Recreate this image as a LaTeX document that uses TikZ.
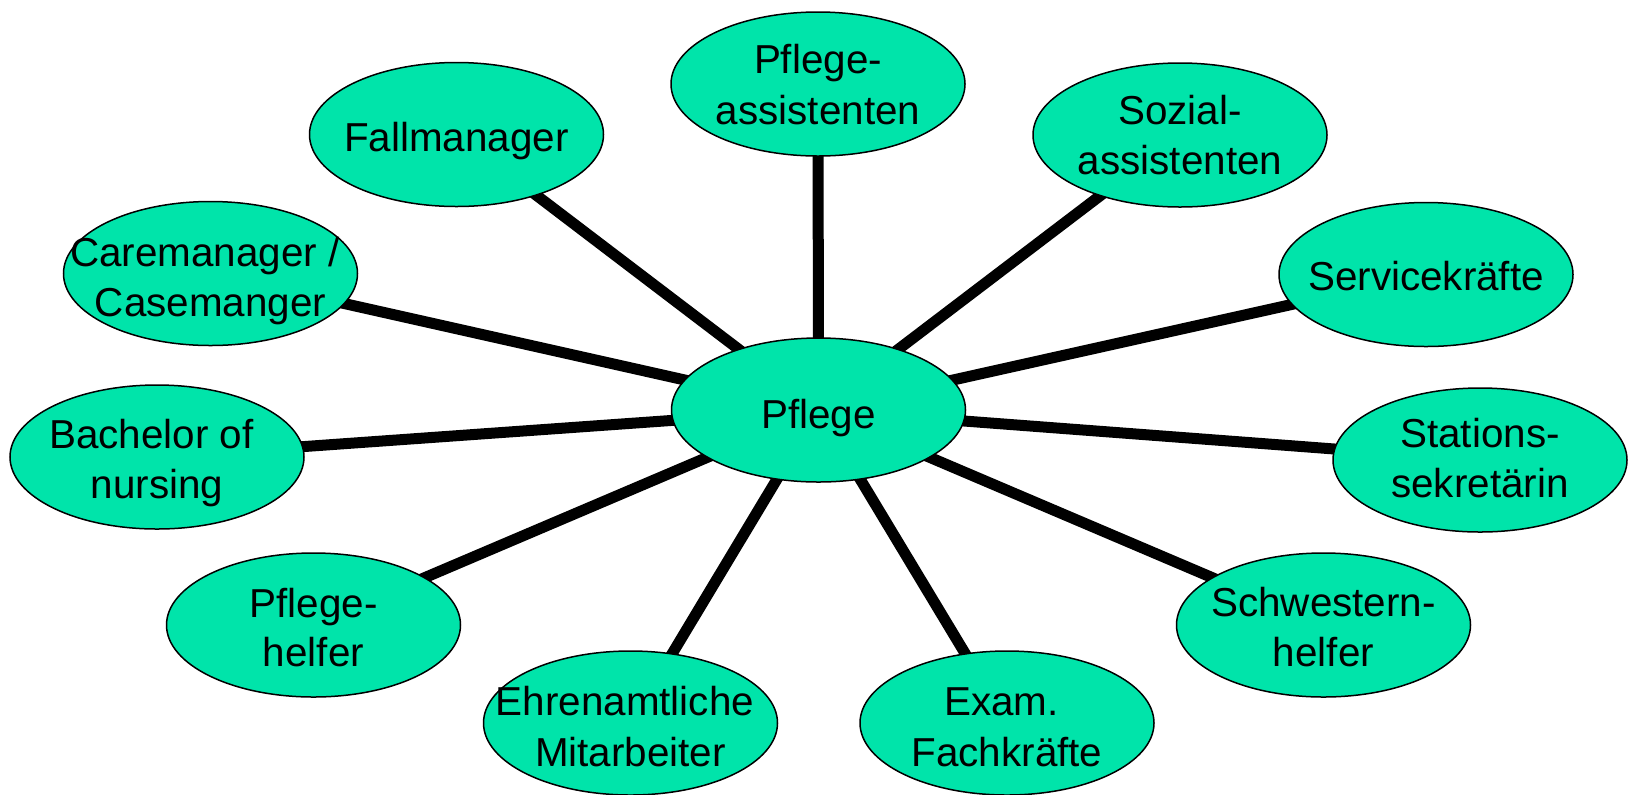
\documentclass[tikz,border=0pt]{standalone}
\usepackage{fontspec}
\setmainfont{Liberation Sans}
\usetikzlibrary{shapes.geometric}
\definecolor{bubble}{HTML}{00E4AA}
\pgfdeclarelayer{bg}
\pgfsetlayers{bg,main}
\begin{document}
\begin{tikzpicture}[x=0.5pt,y=-0.5pt,
  bub/.style={ellipse, draw=black, line width=0.75pt, fill=bubble,
    minimum width=147pt, minimum height=72pt, inner sep=0pt},
  lbl/.style={anchor=base, inner sep=0pt, font=\fontsize{20.2pt}{24pt}\selectfont},
  spoke/.style={line width=5.5pt, black}]
\useasboundingbox (0,0) rectangle (1632,794);
% ellipses
\node[bub] (P)  at (818.5,410) {};
\node[bub] (PA) at (818,84) {};
\node[bub] (FM) at (456.5,134.5) {};
\node[bub] (SA) at (1180,135) {};
\node[bub] (CM) at (210.5,273.5) {};
\node[bub] (SK) at (1426,274.5) {};
\node[bub] (BN) at (157,457) {};
\node[bub] (SS) at (1480,460) {};
\node[bub] (PH) at (313.5,625) {};
\node[bub] (SH) at (1323.5,625) {};
\node[bub] (EM) at (630.5,723) {};
\node[bub] (EX) at (1007,723) {};
% spokes
\begin{pgfonlayer}{bg}
\foreach \n in {PA,FM,SA,CM,SK,BN,SS,PH,SH,EM,EX}
  \draw[spoke] (P.center) -- (\n.center);
\end{pgfonlayer}
% labels
\node[lbl] (tP)   at (818.5,428) {Pflege};
\node[lbl] (tPA1) at (818,73) {Pflege-};
\node[lbl] (tPA2) at (818,124) {assistenten};
\node[lbl] (tFM)  at (456.5,151) {Fallmanager};
\node[lbl] (tSA1) at (1180,124) {Sozial-};
\node[lbl] (tSA2) at (1180,174) {assistenten};
\node[lbl] (tCM1) at (210.5,266) {Caremanager /\kern.278em};
\node[lbl] (tCM2) at (210.5,316) {Casemanger};
\node[lbl] (tSK)  at (1426,290) {Servicekräfte};
\node[lbl] (tBN1) at (157,448) {Bachelor of\kern.278em};
\node[lbl] (tBN2) at (157,498) {nursing};
\node[lbl] (tSS1) at (1480,447) {Stations-};
\node[lbl] (tSS2) at (1480,497) {sekretärin};
\node[lbl] (tPH1) at (313.5,617) {Pflege-};
\node[lbl] (tPH2) at (313.5,666) {helfer};
\node[lbl] (tSH1) at (1323.5,616) {Schwestern-};
\node[lbl] (tSH2) at (1323.5,666) {helfer};
\node[lbl] (tEM1) at (630.5,715) {Ehrenamtliche\kern.278em};
\node[lbl] (tEM2) at (630.5,766) {Mitarbeiter};
\node[lbl] (tEX1) at (1007,715) {Exam.\kern.278em};
\node[lbl] (tEX2) at (1007,766) {Fachkräfte};
\end{tikzpicture}
\end{document}
